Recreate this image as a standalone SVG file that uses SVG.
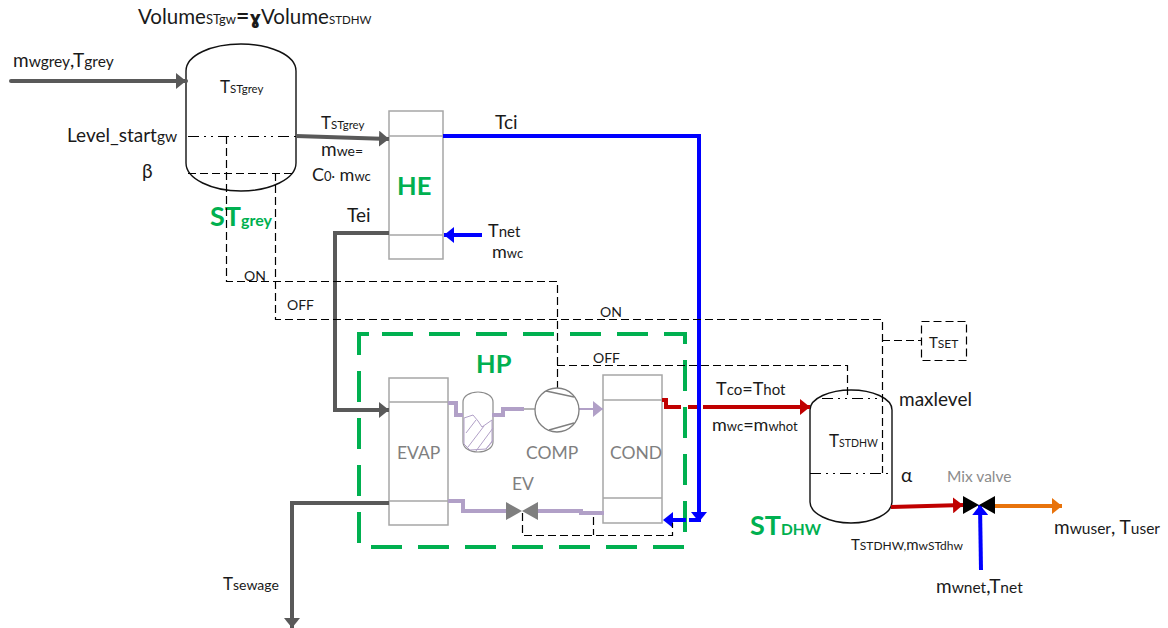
<svg xmlns="http://www.w3.org/2000/svg" width="1168" height="628" viewBox="0 0 1168 628">
<style>
text{font-family:Lato,"Liberation Sans",sans-serif;fill:#1a1a1a;font-size:19px}
.f10{font-size:10.5px}.f11{font-size:11.5px}.f12{font-size:12px}.f13{font-size:13px}.f14{font-size:14px}.f15{font-size:15px}.f16{font-size:15.5px}.f17{font-size:17px}.f18{font-size:18px}.f20{font-size:20.5px}
.box{fill:#fff;stroke:#a6a6a6;stroke-width:1.5}
.thin{fill:none;stroke:#a6a6a6;stroke-width:1.5}
.tank{fill:none;stroke:#111;stroke-width:1.4}
.d{fill:none;stroke:#000;stroke-width:1.2;stroke-dasharray:8 4}
.dd{fill:none;stroke:#000;stroke-width:1.1;stroke-dasharray:11 5 2 5 2 5}
.g{fill:none;stroke:#595959;stroke-width:4}
.b{fill:none;stroke:#0000ff;stroke-width:4}
.r{fill:none;stroke:#c00000;stroke-width:4}
.o{fill:none;stroke:#e8730c;stroke-width:4}
.p{fill:none;stroke:#b1a0c7;stroke-width:4}
.hp{fill:none;stroke:#00b050;stroke-width:4;stroke-dasharray:31 16;stroke-linecap:butt}
.green{fill:#00b050;font-weight:700}
.gt{fill:#7f7f7f;font-size:17.5px}
.big{font-size:25.5px}.st{font-size:27px}.stsub{font-size:16px}
</style>
<defs>
<marker id="ag" markerUnits="userSpaceOnUse" markerWidth="10" markerHeight="16" refX="10" refY="8" orient="auto"><path d="M0 0L10 8L0 16Z" fill="#595959"/></marker>
<marker id="ab" markerUnits="userSpaceOnUse" markerWidth="10" markerHeight="16" refX="10" refY="8" orient="auto"><path d="M0 0L10 8L0 16Z" fill="#0000ff"/></marker>
<marker id="ar" markerUnits="userSpaceOnUse" markerWidth="10" markerHeight="16" refX="10" refY="8" orient="auto"><path d="M0 0L10 8L0 16Z" fill="#c00000"/></marker>
<marker id="ao" markerUnits="userSpaceOnUse" markerWidth="10" markerHeight="16" refX="10" refY="8" orient="auto"><path d="M0 0L10 8L0 16Z" fill="#e8730c"/></marker>
<marker id="ap" markerUnits="userSpaceOnUse" markerWidth="10" markerHeight="16" refX="10" refY="8" orient="auto"><path d="M0 0L10 8L0 16Z" fill="#b1a0c7"/></marker>
</defs>

<g id="HP">
<path class="hp" d="M382 334H685V547H359V334H382"/>
<text class="green big" x="476" y="373">HP</text>
</g>

<g id="ST-grey">
<path class="tank" d="M186 71C186 55 212 44 241 44C270 44 296 55 296 71V163C296 179 270 191 241 191C212 191 186 179 186 163Z"/>
<path class="dd" d="M188 136.500H296"/>
<path class="d" d="M188 173.500H294"/>
<text class="f17" x="220" y="93">T<tspan class="f11">STgrey</tspan></text>
<text x="67" y="142">Level_start<tspan class="f16">gw</tspan></text>
<text x="142" y="178">β</text>
<text class="green st" x="210" y="226">ST<tspan class="stsub">grey</tspan></text>
</g>

<g id="HE">
<rect class="box" x="389" y="111" width="54" height="148"/>
<path class="thin" d="M389 136H443M389 235H443"/>
<text class="green big" x="397" y="195">HE</text>
</g>

<g id="EVAP">
<rect class="box" x="389" y="378" width="59" height="147"/>
<path class="thin" d="M389 402H448M389 501H448"/>
<text class="gt" x="397" y="459">EVAP</text>
</g>

<g id="receiver">
<path d="M463 402C463 396 470 392 478 392C486 392 493 396 493 402V442C493 448 486 452 478 452C470 452 463 448 463 442Z" fill="none" stroke="#8c8c8c" stroke-width="1.2"/>
<path d="M464 418L473 415L478 421L482 427L492 420V442L486 449L470 450L464 444Z" fill="#fff" stroke="#b1a0c7" stroke-width="1"/>
<path d="M466 433L476 420M468 447L484 426M476 451L493 428M486 449L493 440" fill="none" stroke="#b1a0c7" stroke-width="1"/>
</g>

<g id="COND">
<rect class="box" x="603" y="375" width="59" height="148"/>
<path class="thin" d="M603 400H662M603 498H662"/>
<text class="gt" x="610" y="459">COND</text>
</g>

<g id="ST-DHW">
<path class="tank" d="M810 410C810 398 830 390 851 390C872 390 892 398 892 410V502C892 514 872 523 851 523C830 523 810 514 810 502Z"/>
<path class="dd" d="M822 398.500H882"/>
<path class="dd" d="M810 473.500H892"/>
<text class="f17" x="829" y="447">T<tspan class="f10">STDHW</tspan></text>
<text x="899" y="406">maxlevel</text>
<text x="901" y="482">α</text>
<text class="green st" x="750" y="535">ST<tspan class="f16">DHW</tspan></text>
</g>

<g id="TSET">
<rect x="921.500" y="321.500" width="45" height="39" fill="none" stroke="#000" stroke-width="1.2" stroke-dasharray="8 4"/>
<text class="f15" x="929" y="348">T<tspan class="f12">SET</tspan></text>
</g>

<g id="connectors">
<path class="g" stroke-linecap="round" d="M11 81H186" marker-end="url(#ag)"/>
<path class="g" d="M296 136L389 139" marker-end="url(#ag)"/>
<path class="g" d="M389 233H335V410H389" marker-end="url(#ag)"/>
<path class="g" d="M389 503H292V628" marker-end="url(#ag)"/>
<path class="b" d="M443 136H699V522" marker-end="url(#ab)"/>
<path class="b" d="M482 235H444" marker-end="url(#ab)"/>
<path class="b" d="M700 520H663" stroke-dasharray="11 3 14 50" marker-end="url(#ab)"/>
<path class="b" d="M981 570L980 505" marker-end="url(#ab)"/>
<path class="r" d="M662 400H666V407H681M688 407H697"/>
<path class="r" d="M703 407H810" marker-end="url(#ar)"/>
<path class="r" d="M891 507L963 505" marker-end="url(#ar)"/>
<path class="o" d="M995 506H1062" marker-end="url(#ao)"/>
<path class="p" d="M448 403H456V415H463M492 415H503V409H524"/>
<path d="M524 409H535" stroke="#8c8c8c" stroke-width="1.3"/>
<path d="M579 409H603" fill="none" stroke="#b1a0c7" stroke-width="2" marker-end="url(#ap)"/>
<path class="p" d="M448 501H463V511H506M538 511H581V513H604"/>
<path class="d" d="M226.500 136V281.500H557.500V388"/>
<path class="d" d="M275.500 173V319.500H882.500V473M882 340.500H921"/>
<path class="d" d="M557 365.500H847.500V398"/>
<path class="d" d="M522.500 513V535.500H672.500V523M593.500 517V535"/>
</g>

<g id="COMP">
<circle cx="557" cy="410" r="22" fill="#fff" stroke="#7f7f7f" stroke-width="1.3"/>
<path d="M546 391L574 397M549 430L574 423" fill="none" stroke="#7f7f7f" stroke-width="1.3"/>
<text class="gt" x="526" y="459">COMP</text>
</g>

<g id="EV">
<path d="M506 502L522 511L506 520ZM538 502L522 511L538 520Z" fill="#7f7f7f"/>
<text class="gt" x="512" y="490">EV</text>
</g>

<g id="mix-valve">
<path d="M963 496L979 505L963 514ZM995 496L979 505L995 514Z" fill="#000"/>
<text class="f16" x="947" y="482" style="fill:#8c8c8c">Mix valve</text>
</g>

<g id="labels">
<text class="f20" x="138" y="24">Volume<tspan class="f13">STgw</tspan><tspan style="font-size:23px;font-weight:700">=</tspan><tspan style="font-family:'DejaVu Sans',sans-serif;font-size:18px;font-weight:700">ɣ</tspan>Volume<tspan class="f11">STDHW</tspan></text>
<text x="13" y="67">m<tspan class="f16">wgrey</tspan>,T<tspan class="f16">grey</tspan></text>
<text class="f17" x="321" y="129">T<tspan class="f11">STgrey</tspan></text>
<text x="321" y="156">m<tspan class="f14">we=</tspan></text>
<text class="f18" x="312" y="181">C<tspan class="f13">0·</tspan> m<tspan class="f13">wc</tspan></text>
<text x="347" y="222">Tei</text>
<text x="495" y="129">Tci</text>
<text class="f18" x="488" y="237">T<tspan class="f15">net</tspan></text>
<text class="f18" x="492" y="258">m<tspan class="f13">wc</tspan></text>
<text class="f14" x="244" y="281">ON</text>
<text class="f14" x="287" y="310">OFF</text>
<text class="f14" x="600" y="317">ON</text>
<text class="f14" x="593" y="363">OFF</text>
<text class="f18" x="716" y="395">T<tspan class="f15">co</tspan>=T<tspan class="f15">hot</tspan></text>
<text class="f18" x="712" y="431">m<tspan class="f13">wc</tspan>=m<tspan class="f13">whot</tspan></text>
<text class="f15" x="851" y="550">T<tspan class="f12">STDHW,</tspan>m<tspan class="f12">wSTdhw</tspan></text>
<text x="1054" y="534">m<tspan class="f16">wuser</tspan>, T<tspan class="f16">user</tspan></text>
<text x="936" y="593">m<tspan class="f16">wnet</tspan>,T<tspan class="f16">net</tspan></text>
<text class="f17" x="223" y="590">T<tspan class="f14">sewage</tspan></text>
</g>
</svg>
